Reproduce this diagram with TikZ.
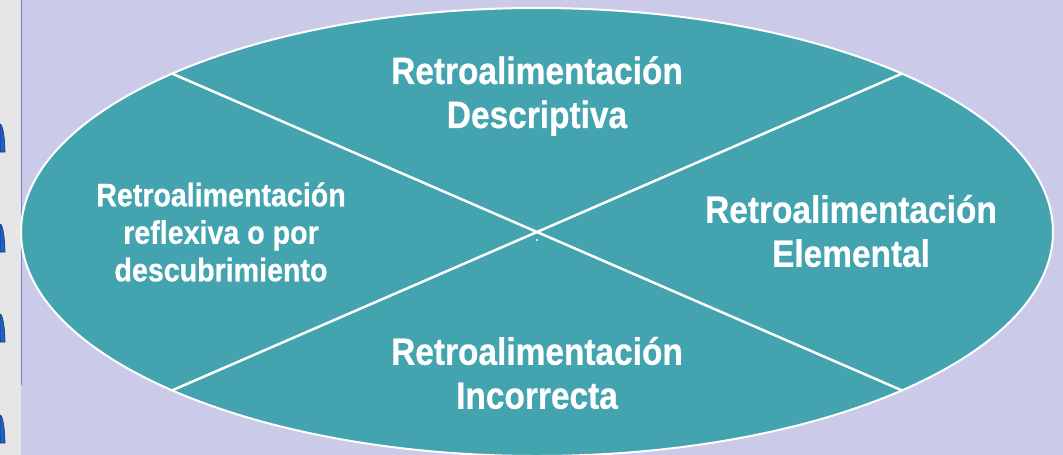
\documentclass[tikz,border=0pt]{standalone}
\usepackage{fontspec}
\newfontfamily\retrofont[FakeStretch=0.88,BoldFeatures={FakeBold=0.6}]{Liberation Sans}
\definecolor{lavender}{HTML}{CBCAE9}
\definecolor{tealfill}{HTML}{43A3AF}
\definecolor{stripgray}{HTML}{E6E6E6}
\definecolor{arcblue}{HTML}{2160C8}
\definecolor{stripline}{HTML}{7083C4}
\tikzset{
  bigtxt/.style={text=white,align=center,inner sep=0pt,
    font=\retrofont\bfseries\fontsize{38}{44}\selectfont},
  smalltxt/.style={text=white,align=center,inner sep=0pt,
    font=\retrofont\bfseries\fontsize{32.5}{37.5}\selectfont},
  split/.style={draw=white,line width=2.5pt}
}
\begin{document}
\begin{tikzpicture}[x=1pt,y=-1pt]
\fill[lavender] (0,0) rectangle (1063,455);
\useasboundingbox (0,0) rectangle (1063,455);
% left strip
\fill[stripgray] (0,0) rectangle (21,455);
\draw[stripline,line width=1.2pt] (21.5,0) -- (21.5,385);
\foreach \t/\b in {124/152,224/252,314/342,415/443}
  \filldraw[fill=arcblue,draw=arcblue!55!black,line width=0.6pt]
    (0,\t) .. controls (3,\t) and (5,\b-12) .. (5,\b) -- (0,\b) -- cycle;
% ellipse and the two diagonals
\coordinate (ctr) at (537,232);
\draw[fill=tealfill,draw=white,line width=2pt] (ctr) ellipse (516pt and 224pt);
\path (ctr) ++(45:516pt and 224pt) coordinate (ne);
\path (ctr) ++(135:516pt and 224pt) coordinate (nw);
\path (ctr) ++(225:516pt and 224pt) coordinate (sw);
\path (ctr) ++(315:516pt and 224pt) coordinate (se);
\draw[split] (nw) -- (se);
\draw[split] (sw) -- (ne);
\fill[white] (537,240) circle (1.2pt);
% labels
\node[bigtxt] (desc) at (537,96) {Retroalimentación\\Descriptiva};
\node[bigtxt] (elem) at (851,231) {Retroalimentación\\Elemental};
\node[bigtxt] (inco) at (537,373) {Retroalimentación\\Incorrecta};
\node[smalltxt] (refl) at (221,232) {Retroalimentación\\reflexiva o por\\descubrimiento};
\end{tikzpicture}
\end{document}
